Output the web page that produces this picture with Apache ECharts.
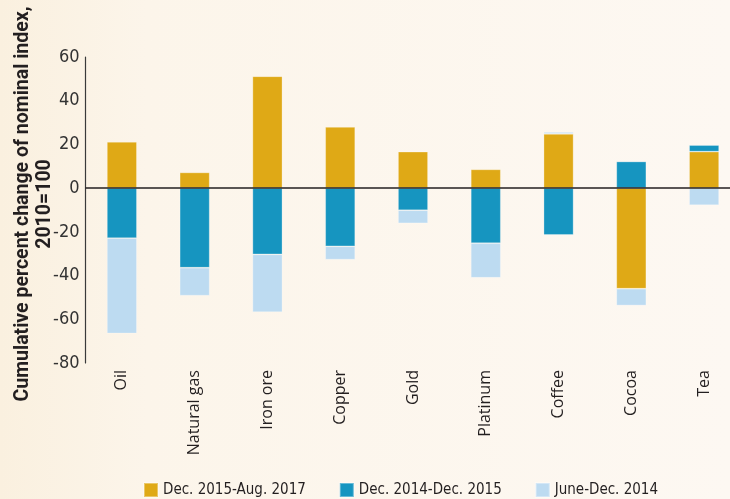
<!DOCTYPE html>
<html lang="en">
<head>
    <meta charset="UTF-8">
    <title>Commodity prices</title>
    <script src="https://cdn.jsdelivr.net/npm/echarts@6/dist/echarts.min.js"></script>
    <style>
        html, body { margin: 0; padding: 0; }
        #main { width: 730px; height: 499px; }
    </style>
</head>
<body>
<div id="main"></div>
<script type="text/javascript">
    var categories = ['Oil', 'Natural gas', 'Iron ore', 'Copper', 'Gold', 'Platinum', 'Coffee', 'Cocoa', 'Tea'];
    var seriesNames = ['Dec. 2015-Aug. 2017', 'Dec. 2014-Dec. 2015', 'June-Dec. 2014'];
    var recent = [21.2, 7.2, 51.2, 28, 16.7, 8.6, 24.8, -46, 16.7];
    var middle = [-22.9, -36.4, -30.3, -26.6, -10.1, -25.2, -21.4, 12.2, 3];
    var early = [-43.6, -12.8, -26.4, -6.1, -6, -15.8, 0.9, -7.7, -7.8];
    var yTicks = {min: -80, max: 60, interval: 20};

    var colors = ['#dfa916', '#1695c0', '#bddbf1'];
    var narrow = '"Liberation Sans Narrow", "DejaVu Sans Condensed", sans-serif';

    var myChart = echarts.init(document.getElementById('main'));

    function bar(name, data, color, withZero) {
        var s = {
            name: name,
            type: 'bar',
            stack: 'total',
            barWidth: 30,
            data: data,
            itemStyle: {color: color, borderColor: 'rgba(255,255,255,0.35)', borderWidth: 0.8}
        };
        if (withZero) {
            // zero line across the plot
            s.markLine = {
                silent: true,
                symbol: 'none',
                label: {show: false},
                lineStyle: {color: '#231f20', width: 1.5, type: 'solid'},
                data: [{yAxis: 0}]
            };
        }
        return s;
    }

    var option = {
        backgroundColor: new echarts.graphic.LinearGradient(0, 0, 1, 0, [
            {offset: 0, color: '#faf0df'},
            {offset: 0.2, color: '#fcf5ea'},
            {offset: 1, color: '#fdf8f2'}
        ]),
        animation: false,
        grid: {left: 85.5, width: 655, top: 57, bottom: 136, outerBoundsMode: 'none', containLabel: false},
        legend: {
            left: 143,
            top: 482,
            width: 650,
            padding: 0,
            itemWidth: 14,
            itemHeight: 14,
            itemGap: 33,
            icon: 'rect',
            textStyle: {fontFamily: narrow, fontSize: 15, color: '#231f20'},
            data: seriesNames
        },
        xAxis: {
            type: 'category',
            data: categories,
            axisLine: {show: false, onZero: false},
            axisTick: {show: false},
            axisLabel: {
                rotate: 90,
                margin: 7,
                fontFamily: '"Open Sans", "Noto Sans", sans-serif',
                fontSize: 16,
                color: '#231f20'
            }
        },
        yAxis: {
            type: 'value',
            min: yTicks.min,
            max: yTicks.max,
            interval: yTicks.interval,
            name: 'Cumulative percent change of nominal index,\n2010=100',
            nameLocation: 'middle',
            nameRotate: 90,
            nameGap: 29,
            nameMoveOverlap: false,
            nameTextStyle: {
                fontFamily: 'Roboto, "Open Sans", sans-serif',
                fontWeight: 'bold',
                fontSize: 19.5,
                lineHeight: 22,
                color: '#231f20',
                align: 'center',
                padding: [0, 0, 0, 12]
            },
            axisLine: {show: true, lineStyle: {color: '#3a3a3a', width: 1.2}},
            axisTick: {show: false},
            splitLine: {show: false},
            axisLabel: {fontFamily: narrow, fontSize: 18, color: '#333', margin: 6}
        },
        series: [
            bar(seriesNames[0], recent, colors[0], true),
            bar(seriesNames[1], middle, colors[1], false),
            bar(seriesNames[2], early, colors[2], false)
        ]
    };
    myChart.setOption(option);
</script>
</body>
</html>
